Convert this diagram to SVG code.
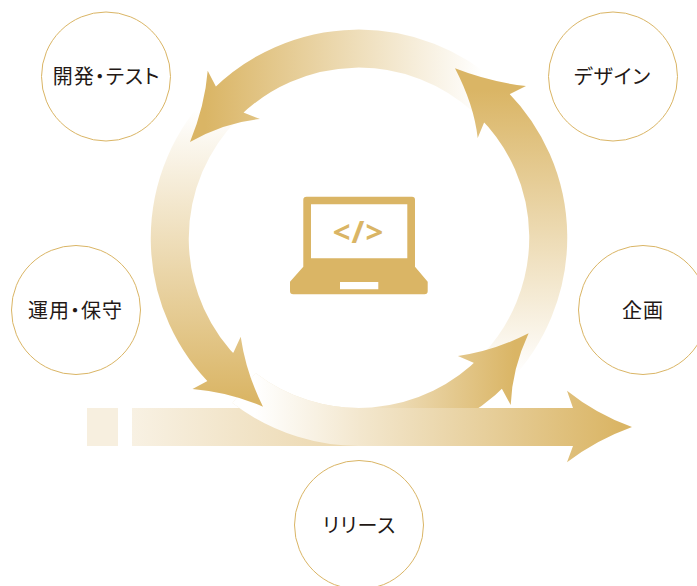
<svg xmlns="http://www.w3.org/2000/svg" width="697" height="586" viewBox="0 0 697 586">
<style>
.node{fill:#fff;stroke:#dab565;stroke-width:1}
.lbl{font-family:"Noto Sans CJK JP","Noto Sans",sans-serif;font-size:20px;letter-spacing:1px;fill:#231815;text-anchor:middle;font-feature-settings:"palt"}
.arc{fill:none;stroke-width:38}
</style>
<defs>
<linearGradient id="gTop" gradientUnits="userSpaceOnUse" x1="482" y1="0" x2="205" y2="0"><stop offset="0" stop-color="#fff"/><stop offset="1" stop-color="#dab565"/></linearGradient>
<linearGradient id="gRight" gradientUnits="userSpaceOnUse" x1="0" y1="90" x2="0" y2="375"><stop offset="0" stop-color="#dab565"/><stop offset="1" stop-color="#fff"/></linearGradient>
<linearGradient id="gLeft" gradientUnits="userSpaceOnUse" x1="0" y1="110" x2="0" y2="400"><stop offset="0" stop-color="#fff"/><stop offset="1" stop-color="#dab565"/></linearGradient>
<linearGradient id="gBottom" gradientUnits="userSpaceOnUse" x1="359" y1="0" x2="515" y2="0"><stop offset="0" stop-color="#f3e7ce"/><stop offset="1" stop-color="#dab565"/></linearGradient>
<linearGradient id="gOver" gradientUnits="userSpaceOnUse" x1="255" y1="0" x2="360" y2="0"><stop offset="0" stop-color="#fff"/><stop offset="1" stop-color="#f3e7ce"/></linearGradient>
<linearGradient id="gLineL" gradientUnits="userSpaceOnUse" x1="132" y1="0" x2="360" y2="0"><stop offset="0" stop-color="#f8f1e3"/><stop offset="1" stop-color="#ebd6ab"/></linearGradient>
<linearGradient id="gLineR" gradientUnits="userSpaceOnUse" x1="359" y1="0" x2="620" y2="0"><stop offset="0" stop-color="#f3e7ce"/><stop offset="1" stop-color="#dab565"/></linearGradient>
<clipPath id="leftHalf"><rect x="200" y="370" width="159.500" height="90"/></clipPath>
</defs>
<g id="connectors">
<path class="arc" stroke="url(#gTop)" d="M485.500 97.500A189 189 0 0 0 226 103"/>
<path class="arc" stroke="url(#gRight)" d="M493 104A189 189 0 0 1 496 368"/>
<path class="arc" stroke="url(#gLeft)" d="M225 105A189 189 0 0 0 228 375"/>
<path class="arc" stroke="url(#gBottom)" d="M244 388A189 189 0 0 0 495 369"/>
<rect x="87" y="408" width="31" height="38" fill="#f7efdf"/>
<rect x="132" y="408" width="228" height="38" fill="url(#gLineL)"/>
<path fill="url(#gLineR)" d="M359 408H573L567 390.700Q596 414 632 427Q596 440 567 462.300L573 446H359Z"/>
<path class="arc" stroke="url(#gOver)" clip-path="url(#leftHalf)" d="M244 388A189 189 0 0 0 495 369"/>
<path fill="url(#gTop)" d="M190 142Q205 105 207.700 70.700L216 86.700L244 112.700L260 119Q225 122 190 142Z"/>
<path fill="url(#gRight)" d="M455 68.300Q490 82 526 86L510 94L484 122.700L477.700 138Q474 105 455 68.300Z"/>
<path fill="url(#gBottom)" d="M528.600 333.300Q494 351 457.900 356L473.600 362.700L502 389L510.700 405Q512 369 528.600 333.300Z"/>
<path fill="url(#gLeft)" d="M263 406.700Q229 392 192.500 389L207.900 380.700L233.600 352.300L240.700 336.700Q246 373 263 406.700Z"/>
</g>
<g id="laptop">
<path fill="#dab565" fill-rule="evenodd" d="M306.500 196.700H412Q415 196.700 415 199.700V266.700L427.700 281.700V291Q427.700 294.300 424.500 294.300H293.300Q290 294.300 290 291V281.700L303.300 266.700V199.700Q303.300 196.700 306.500 196.700ZM311 204.300V258.300H407.300V204.300ZM340 282V289.300H378.300V282Z"/>
<text x="358.500" y="243" font-family="'Noto Sans','DejaVu Sans',sans-serif" font-weight="700" font-size="31" fill="#dab565" text-anchor="middle" letter-spacing="1">&lt;/&gt;</text>
</g>
<g id="node-dev"><circle class="node" cx="106" cy="76.500" r="64.500"/><text class="lbl" x="106.500" y="84">開発・テスト</text></g>
<g id="node-design"><circle class="node" cx="613" cy="76.500" r="64.500"/><text class="lbl" x="612.500" y="84">デザイン</text></g>
<g id="node-plan"><circle class="node" cx="643" cy="310" r="64.500"/><text class="lbl" x="643" y="318">企画</text></g>
<g id="node-ops"><circle class="node" cx="76" cy="310" r="64.500"/><text class="lbl" x="75.500" y="318">運用・保守</text></g>
<g id="node-release"><circle class="node" cx="359" cy="525" r="64.500"/><text class="lbl" x="359.500" y="533">リリース</text></g>
</svg>
